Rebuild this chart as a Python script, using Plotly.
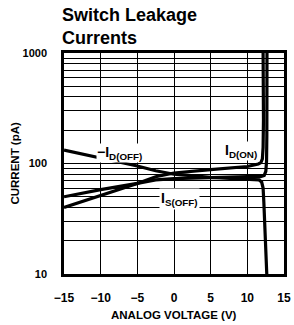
import plotly.graph_objects as go

# Data
id_on_v = [-15, -10, -5, -2.5, 0, 5, 10, 11.5, 11.85, 12.05, 12.15, 12.2, 12.19, 12.15]
id_on_i = [40, 51, 66, 76, 82, 88, 94, 99, 102, 110, 140, 250, 500, 1000]

id_off_v = [-15, -10, -5, -2.5, 0, 5, 10, 11.6, 11.95, 12.15, 12.25, 12.35, 12.5, 12.65]
id_off_i = [132, 112, 95, 86, 80, 75, 72, 71, 68, 60, 45, 30, 18, 10]

is_off_v = [-15, -10, -5, -2.5, 0, 5, 10, 11.8, 12.3, 12.52, 12.62, 12.66, 12.68, 12.68]
is_off_i = [50, 58, 66, 71, 73, 75, 76, 76, 78, 85, 105, 180, 450, 1000]

x_ticks = [-15, -10, -5, 0, 5, 10, 15]
x_tick_text = ["\u221215", "\u221210", "\u22125", "0", "5", "10", "15"]
y_major = [10, 100, 1000]
y_major_text = ["10", "100", "1000"]
y_minor = [20, 30, 40, 50, 60, 70, 80, 90, 200, 300, 400, 500, 600, 700, 800, 900]

FONT = "Liberation Sans, Arial"

fig = go.Figure()
for xs, ys in [(id_on_v, id_on_i), (id_off_v, id_off_i), (is_off_v, is_off_i)]:
    fig.add_trace(go.Scatter(x=xs, y=ys, mode="lines",
                             line=dict(color="black", width=3.2, shape="linear"),
                             showlegend=False, hoverinfo="skip"))

fig.update_layout(
    width=294, height=325,
    margin=dict(l=64, r=10, t=53, b=51, autoexpand=False),
    paper_bgcolor="white", plot_bgcolor="white",
    showlegend=False,
    font=dict(family=FONT, color="black"),
)
fig.update_xaxes(
    range=[-15, 15], tickvals=x_ticks, ticktext=x_tick_text,
    showgrid=True, gridcolor="black", gridwidth=1.4,
    showline=True, linecolor="black", linewidth=2.5, mirror=True,
    zeroline=False, ticks="", ticklabelstandoff=11, automargin=False,
    tickfont=dict(size=12, family=FONT, weight="bold"),
)
fig.update_yaxes(
    type="log", range=[1, 3], tickvals=y_major, ticktext=y_major_text,
    showgrid=True, gridcolor="black", gridwidth=1.4,
    minor=dict(tickvals=y_minor, showgrid=True, gridcolor="black", gridwidth=1.4, ticks=""),
    showline=True, linecolor="black", linewidth=2.5, mirror=True,
    zeroline=False, ticks="", ticklabelstandoff=12, automargin=False,
    tickfont=dict(size=11, family=FONT, weight="bold"),
)

# axis titles
fig.add_annotation(x=0.5, y=-0.1855, xref="paper", yref="paper", xanchor="center", yanchor="middle",
                   text="<b>ANALOG VOLTAGE (V)</b>", showarrow=False,
                   font=dict(size=11.5, family=FONT, color="black"))
fig.add_annotation(x=-0.227, y=0.5, xref="paper", yref="paper", xanchor="center", yanchor="middle",
                   text="<b>CURRENT (pA)</b>", showarrow=False, textangle=-90,
                   font=dict(size=11.5, family=FONT, color="black"))

lbl_font = dict(size=14, family=FONT, color="black", weight="bold")
fig.add_annotation(x=-7.4, y=2.095, xref="x", yref="y", text="\u2212I<sub>D(OFF)</sub>",
                   showarrow=False, font=lbl_font, bgcolor="white", borderpad=0)
fig.add_annotation(x=9.1, y=2.113, xref="x", yref="y", text="I<sub>D(ON)</sub>",
                   showarrow=False, font=lbl_font, bgcolor="white", borderpad=0)
fig.add_annotation(x=0.8, y=1.679, xref="x", yref="y", text="I<sub>S(OFF)</sub>",
                   showarrow=False, font=lbl_font, bgcolor="white", borderpad=1)

fig.add_annotation(x=-0.018, y=1.226, xref="paper", yref="paper", xanchor="left", yanchor="top",
                   text="<b>Switch Leakage<br>Currents</b>", showarrow=False, align="left",
                   font=dict(size=18, family=FONT, color="black"))

fig.write_html("out.html", config={"displayModeBar": False},
               post_script="document.body.style.margin='0';document.body.style.overflow='hidden';")
